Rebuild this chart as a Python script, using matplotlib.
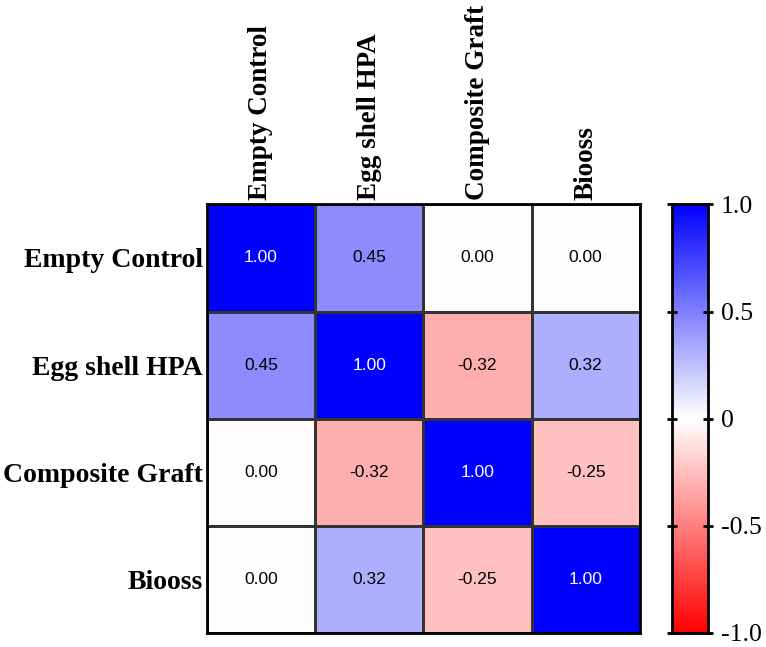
import numpy as np
import matplotlib
matplotlib.use("Agg")
import matplotlib.pyplot as plt
from matplotlib.colors import LinearSegmentedColormap

labels = ["Empty Control", "Egg shell HPA", "Composite Graft", "Biooss"]
corr = np.array([
    [1.00, 0.45, 0.00, 0.00],
    [0.45, 1.00, -0.32, 0.32],
    [0.00, -0.32, 1.00, -0.25],
    [0.00, 0.32, -0.25, 1.00],
])
cbar_ticks = [-1.0, -0.5, 0, 0.5, 1.0]
cbar_ticklabels = ["-1.0", "-0.5", "0", "0.5", "1.0"]

cmap = LinearSegmentedColormap.from_list("rwb", ["#ff0000", "#ffffff", "#0000ff"])

fig = plt.figure(figsize=(7.66, 6.47), dpi=100)
ax = fig.add_axes([0.270, 0.022, 0.5653, 0.662])
cax = fig.add_axes([0.877, 0.022, 0.047, 0.662])

n = len(labels)
mesh = ax.pcolormesh(corr, cmap=cmap, vmin=-1, vmax=1,
                     edgecolors="#333333", linewidth=0.8)
ax.set_xlim(0, n)
ax.set_ylim(n, 0)

for i in range(n):
    for j in range(n):
        v = corr[i, j]
        ax.text(j + 0.5, i + 0.5, f"{v:.2f}", ha="center", va="center",
                fontsize=12.5, family="Liberation Sans",
                color="white" if v > 0.9 else "black")

ax.xaxis.tick_top()
ax.set_xticks(np.arange(n) + 0.5)
ax.set_xticklabels(labels, rotation=90, fontsize=19.5, family="Liberation Serif",
                   fontweight="bold", va="bottom")
ax.set_yticks(np.arange(n) + 0.5)
ax.set_yticklabels(labels, fontsize=20, family="Liberation Serif", fontweight="bold")
ax.tick_params(length=0, pad=3)
for s in ax.spines.values():
    s.set_linewidth(2)

cb = fig.colorbar(mesh, cax=cax, ticks=cbar_ticks)
cb.set_ticklabels(cbar_ticklabels)
cb.outline.set_linewidth(2)
cax.tick_params(labelsize=18.5, width=2, length=7, direction="inout", left=True, pad=6)
for t in cax.get_yticklabels():
    t.set_family("Liberation Serif")

fig.savefig("out.png", dpi=100)
